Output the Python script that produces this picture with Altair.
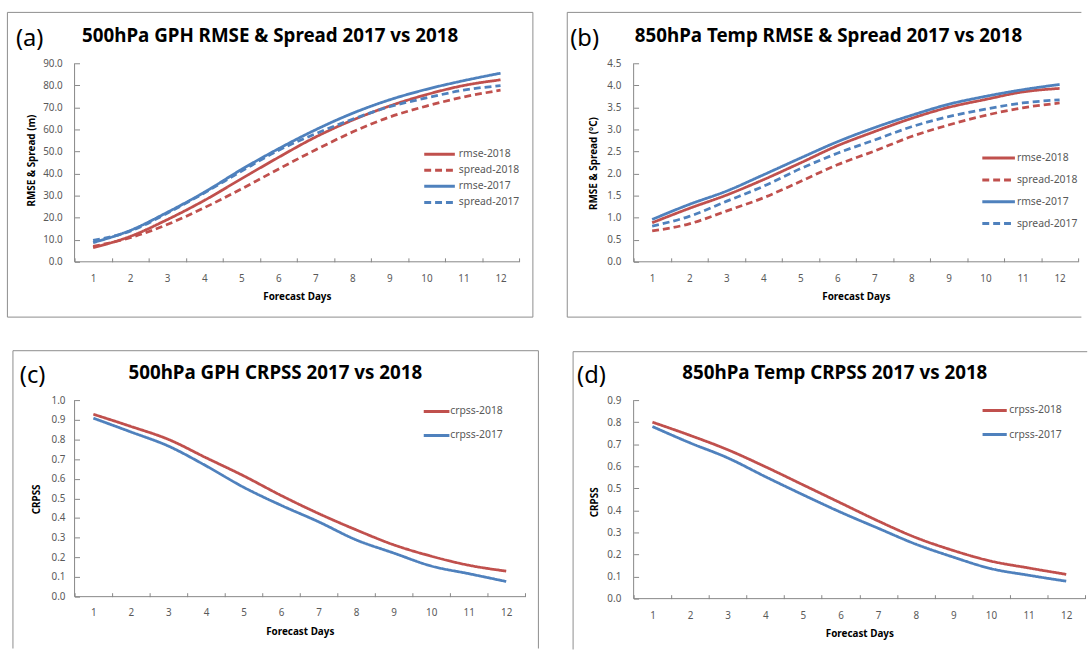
import altair as alt
import pandas as pd

# ---------------- data ----------------
DAYS = list(range(1, 13))

GPH_RMSE_2018 = [6.4, 11.5, 19.1, 27.8, 37.6, 47.3, 56.5, 64.2, 70.6, 75.8, 79.9, 82.5]
GPH_SPREAD_2018 = [7.0, 10.9, 16.9, 24.5, 33.0, 42.0, 50.7, 58.8, 65.6, 70.6, 74.7, 77.8]
GPH_RMSE_2017 = [8.7, 14.2, 22.4, 31.5, 41.8, 51.2, 59.8, 67.3, 73.4, 78.2, 82.1, 85.5]
GPH_SPREAD_2017 = [9.7, 13.9, 22.0, 31.2, 41.0, 50.5, 58.0, 64.6, 70.3, 74.3, 77.8, 79.9]

T_RMSE_2018 = [0.885, 1.21, 1.51, 1.86, 2.24, 2.63, 2.95, 3.25, 3.50, 3.68, 3.85, 3.93]
T_SPREAD_2018 = [0.70, 0.86, 1.15, 1.45, 1.82, 2.20, 2.51, 2.84, 3.10, 3.32, 3.49, 3.60]
T_RMSE_2017 = [0.96, 1.30, 1.60, 1.97, 2.35, 2.72, 3.04, 3.32, 3.57, 3.75, 3.90, 4.02]
T_SPREAD_2017 = [0.81, 1.03, 1.37, 1.71, 2.11, 2.46, 2.76, 3.06, 3.29, 3.46, 3.60, 3.67]

GPH_CRPSS_2018 = [0.928, 0.866, 0.800, 0.707, 0.615, 0.515, 0.423, 0.340, 0.264, 0.206, 0.160, 0.130]
GPH_CRPSS_2017 = [0.908, 0.838, 0.766, 0.666, 0.557, 0.465, 0.381, 0.289, 0.222, 0.156, 0.117, 0.077]

T_CRPSS_2018 = [0.800, 0.740, 0.675, 0.598, 0.516, 0.434, 0.352, 0.277, 0.218, 0.170, 0.139, 0.110]
T_CRPSS_2017 = [0.780, 0.706, 0.638, 0.553, 0.471, 0.392, 0.319, 0.247, 0.188, 0.136, 0.106, 0.079]

YTICKS_A = [0, 10, 20, 30, 40, 50, 60, 70, 80, 90]
YTICKS_B = [0, 0.5, 1.0, 1.5, 2.0, 2.5, 3.0, 3.5, 4.0, 4.5]
YTICKS_C = [0, 0.1, 0.2, 0.3, 0.4, 0.5, 0.6, 0.7, 0.8, 0.9, 1.0]
YTICKS_D = [0, 0.1, 0.2, 0.3, 0.4, 0.5, 0.6, 0.7, 0.8, 0.9]

# ---------------- style ----------------
FONT = "Noto Sans"
RED = "#C0504D"
BLUE = "#4F81BD"
AXIS_GRAY = "#868686"
BORDER_GRAY = "#8C8C8C"
LABEL_GRAY = "#595959"
SOLID = [1, 0]
DASH = [7, 4]

ONE = pd.DataFrame({"k": [0]})


def long_df(series):
    rows = []
    for name, vals in series:
        for d, v in zip(DAYS, vals):
            rows.append({"day": d, "series": name, "value": v})
    return pd.DataFrame(rows)


def hrule(x1, x2, y, color=BORDER_GRAY):
    return alt.Chart(ONE).mark_rule(color=color, strokeWidth=1).encode(
        x=alt.value(x1), x2=alt.value(x2), y=alt.value(y))


def vrule(x, y1, y2, color=BORDER_GRAY):
    return alt.Chart(ONE).mark_rule(color=color, strokeWidth=1).encode(
        x=alt.value(x), y=alt.value(y1), y2=alt.value(y2))


def panel(g):
    W, H = g["W"], g["H"]
    df = long_df(g["series"])
    names = [n for n, _ in g["series"]]
    k = g["symlen"] / 10.0
    leg = alt.Legend(
        orient="none", legendX=g["lx"], legendY=g["ly"], title=None,
        symbolType=f"M-{k},0H{k}", symbolSize=100, symbolStrokeWidth=3,
        symbolOffset=0, labelOffset=g["loff"], rowPadding=g["rowpad"],
        labelFont=FONT, labelFontSize=10.5, labelColor=LABEL_GRAY, padding=0,
    )
    lines = alt.Chart(df).mark_line(strokeWidth=2.8, interpolate="monotone").encode(
        x=alt.X(
            "day:O", bandPosition=0.5,
            scale=alt.Scale(type="band", paddingInner=0, paddingOuter=0),
            axis=alt.Axis(
                title="Forecast Days", labelAngle=0, tickBand="extent",
                offset=-4, tickSize=4, labelPadding=g["xlp"],
                titleX=W / 2, titleY=g["xty"] - (H - 4), titleBaseline="middle",
            ),
        ),
        y=alt.Y(
            "value:Q",
            scale=alt.Scale(domain=[0, g["ymax"]], nice=False, zero=True),
            axis=alt.Axis(
                values=g["yticks"], format=".1f", offset=-5, tickSize=5,
                labelPadding=g["ylp"], title=g["ytitle"],
                titleX=g["ytx"] - 5, titleY=g["yty"], titleAngle=-90,
                titleBaseline="middle",
            ),
        ),
        color=alt.Color("series:N", scale=alt.Scale(domain=names, range=g["colors"]), legend=leg),
        strokeDash=alt.StrokeDash("series:N", scale=alt.Scale(domain=names, range=g["dashes"]), legend=leg),
    )
    title = alt.Chart(ONE).mark_text(
        text=g["title"], font=FONT, fontSize=19, fontWeight="bold", color="black",
        align="center", baseline="middle",
    ).encode(x=alt.value(g["tx"]), y=alt.value(g["ty"]))
    tag = alt.Chart(ONE).mark_text(
        text=g["tag"], font=FONT, fontSize=24, color="black",
        align="left", baseline="middle",
    ).encode(x=alt.value(g["gx"]), y=alt.value(g["gy"]))
    # axis base lines
    xdom = hrule(0, W, H, AXIS_GRAY)
    ydom = vrule(0, 0, H, AXIS_GRAY)
    L, T, R, B = g["border"]
    edges = []
    for side in g["sides"]:
        if side == "t":
            edges.append(hrule(L, R, T))
        elif side == "b":
            edges.append(hrule(L, R, B))
        elif side == "l":
            edges.append(vrule(L, T, B))
        elif side == "r":
            edges.append(vrule(R, T, B))
    return alt.layer(*edges, xdom, ydom, lines, title, tag).properties(width=W, height=H)


pa = panel(dict(
    W=450, H=201, ymax=90, yticks=YTICKS_A, ytitle="RMSE & Spread (m)",
    series=[("rmse-2018", GPH_RMSE_2018), ("spread-2018", GPH_SPREAD_2018),
            ("rmse-2017", GPH_RMSE_2017), ("spread-2017", GPH_SPREAD_2017)],
    colors=[RED, RED, BLUE, BLUE], dashes=[SOLID, DASH, SOLID, DASH],
    symlen=31, lx=363, ly=85.5, loff=13, rowpad=3.3,
    xlp=12, xty=236, ylp=12.5, ytx=-44, yty=98,
    title="500hPa GPH RMSE & Spread 2017 vs 2018", tx=198, ty=-28,
    tag="(a)", gx=-59.4, gy=-24.2,
    border=(-68, -51.5, 464, 257), sides="tblr",
))

pb = panel(dict(
    W=450, H=201, ymax=4.5, yticks=YTICKS_B, ytitle="RMSE & Spread (°C)",
    series=[("rmse-2018", T_RMSE_2018), ("spread-2018", T_SPREAD_2018),
            ("rmse-2017", T_RMSE_2017), ("spread-2017", T_SPREAD_2017)],
    colors=[RED, RED, BLUE, BLUE], dashes=[SOLID, DASH, SOLID, DASH],
    symlen=33, lx=363, ly=89.5, loff=12, rowpad=9.1,
    xlp=12, xty=236, ylp=13, ytx=-40.2, yty=101,
    title="850hPa Temp RMSE & Spread 2017 vs 2018", tx=197.3, ty=-28,
    tag="(b)", gx=-64.2, gy=-24.2,
    border=(-67.2, -51.5, 453.3, 257), sides="tbl",
))

pc = panel(dict(
    W=456, H=199, ymax=1.0, yticks=YTICKS_C, ytitle="CRPSS",
    series=[("crpss-2018", GPH_CRPSS_2018), ("crpss-2017", GPH_CRPSS_2017)],
    colors=[RED, BLUE], dashes=[SOLID, SOLID],
    symlen=26, lx=360, ly=5, loff=7.3, rowpad=11.3,
    xlp=11.4, xty=234, ylp=9.7, ytx=-38.9, yty=100,
    title="500hPa GPH CRPSS 2017 vs 2018", tx=203.3, ty=-27.5,
    tag="(c)", gx=-55.4, gy=-24.2,
    border=(-62.4, -50, 469.6, 251.5), sides="tlr",
))

pd_ = panel(dict(
    W=457, H=201, ymax=0.9, yticks=YTICKS_D, ytitle="CRPSS",
    series=[("crpss-2018", T_CRPSS_2018), ("crpss-2017", T_CRPSS_2017)],
    colors=[RED, BLUE], dashes=[SOLID, SOLID],
    symlen=24.5, lx=359, ly=4, loff=8.2, rowpad=11.4,
    xlp=12, xty=236.7, ylp=13, ytx=-39.3, yty=103,
    title="850hPa Temp CRPSS 2017 vs 2018", tx=203.7, ty=-27.8,
    tag="(d)", gx=-57.3, gy=-24,
    border=(-61.3, -49, 459.2, 252.5), sides="tl",
))

chart = alt.concat(
    pa, pb, pc, pd_, columns=2, spacing={"row": 32, "column": 27},
    align="each", bounds="full",
).resolve_scale(
    x="independent", y="independent", color="independent", strokeDash="independent",
).resolve_legend(
    color="independent", strokeDash="independent",
).properties(
    padding={"left": 6.5, "top": 8, "right": 0, "bottom": 0},
    background="white",
).configure_view(stroke=None).configure_axis(
    grid=False, domain=False, tickColor=AXIS_GRAY, tickWidth=1,
    labelFont=FONT, labelFontSize=10, labelColor=LABEL_GRAY,
    titleFont=FONT, titleFontSize=10, titleFontWeight="bold", titleColor="black",
)

chart.save("out.html", embed_options={"renderer": "svg", "actions": False})
